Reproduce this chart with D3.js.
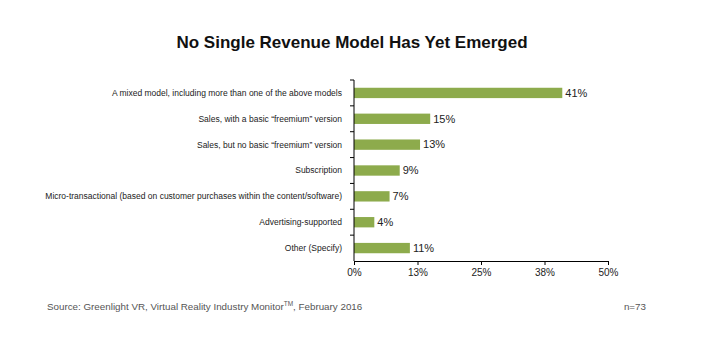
<!DOCTYPE html>
<html>
<head>
<meta charset="utf-8">
<script src="https://cdn.jsdelivr.net/npm/d3@7"></script>
<style>
  body { margin: 0; background: #fff; }
  text { font-family: "Liberation Sans", Arial, sans-serif; }
</style>
</head>
<body>
<div id="chart"></div>
<script>
// chart data
const categories = [
  "A mixed model, including more than one of the above models",
  "Sales, with a basic \u201cfreemium\u201d version",
  "Sales, but no basic \u201cfreemium\u201d version",
  "Subscription",
  "Micro-transactional (based on customer purchases within the content/software)",
  "Advertising-supported",
  "Other (Specify)"
];
const values = [41, 15, 13, 9, 7, 4, 11];
const tickValues = [0, 12.5, 25, 37.5, 50];
const tickLabels = ["0%", "13%", "25%", "38%", "50%"];

const WIDTH = 720;
const HEIGHT = 360;
const MARGIN = { left: 354, right: 112, top: 80, bottom: 99 };

const svg = d3.select("#chart").append("svg")
  .attr("width", WIDTH)
  .attr("height", HEIGHT);

svg.append("text")
  .attr("x", 352)
  .attr("y", 48)
  .attr("text-anchor", "middle")
  .attr("font-size", 17)
  .attr("font-weight", "bold")
  .attr("fill", "#111")
  .text("No Single Revenue Model Has Yet Emerged");

const xscale = d3.scaleLinear()
  .domain([0, 50])
  .range([MARGIN.left, WIDTH - MARGIN.right]);

const yscale = d3.scaleBand()
  .domain(categories)
  .range([MARGIN.top, HEIGHT - MARGIN.bottom])
  .paddingInner(0.6)
  .paddingOuter(0.3);

// bars
svg.selectAll(".bar")
  .data(values)
  .enter()
  .append("rect")
  .attr("class", "bar")
  .attr("x", xscale(0))
  .attr("y", (d, i) => yscale(categories[i]))
  .attr("width", d => xscale(d) - xscale(0))
  .attr("height", yscale.bandwidth())
  .attr("fill", "#8dab4c");

// value labels
svg.selectAll(".val")
  .data(values)
  .enter()
  .append("text")
  .attr("class", "val")
  .attr("x", d => xscale(d) + 3)
  .attr("y", (d, i) => yscale(categories[i]) + yscale.bandwidth() / 2)
  .attr("dy", "0.35em")
  .attr("font-size", 11)
  .attr("fill", "#222")
  .text(d => d + "%");

// y axis: line with ticks between categories
const yTop = MARGIN.top;
const yBottom = HEIGHT - MARGIN.bottom;
const step = (yBottom - yTop) / categories.length;
const gy = svg.append("g").attr("stroke", "#000").attr("stroke-width", 1);
gy.append("line")
  .attr("x1", xscale(0)).attr("x2", xscale(0))
  .attr("y1", yTop).attr("y2", yBottom);
gy.selectAll(".ytick")
  .data(d3.range(categories.length))
  .enter()
  .append("line")
  .attr("x1", xscale(0) - 4).attr("x2", xscale(0))
  .attr("y1", i => yTop + i * step)
  .attr("y2", i => yTop + i * step);

// category labels
svg.selectAll(".cat")
  .data(categories)
  .enter()
  .append("text")
  .attr("class", "cat")
  .attr("x", xscale(0) - 12)
  .attr("y", d => yscale(d) + yscale.bandwidth() / 2)
  .attr("dy", "0.35em")
  .attr("text-anchor", "end")
  .attr("font-size", 8.5)
  .attr("fill", "#222")
  .text(d => d);

// x axis
const x_axis = d3.axisBottom(xscale)
  .tickValues(tickValues)
  .tickFormat((d, i) => tickLabels[i])
  .tickSize(4)
  .tickSizeOuter(0);

const gx = svg.append("g")
  .attr("transform", `translate(0, ${yBottom})`)
  .call(x_axis);
gx.select(".domain").attr("stroke", "#000");
gx.selectAll(".tick line").attr("stroke", "#000");
gx.selectAll(".tick text")
  .attr("font-family", "Liberation Sans, Arial, sans-serif")
  .attr("font-size", 10)
  .attr("fill", "#222")
  .attr("y", 8);

// footer
const source = svg.append("text")
  .attr("x", 47)
  .attr("y", 310)
  .attr("font-size", 9.8)
  .attr("fill", "#555");
source.append("tspan").text("Source: Greenlight VR, Virtual Reality Industry Monitor");
source.append("tspan").attr("font-size", 6.5).attr("dy", -4).text("TM");
source.append("tspan").attr("dy", 4).text(", February 2016");

svg.append("text")
  .attr("x", 646)
  .attr("y", 310)
  .attr("text-anchor", "end")
  .attr("font-size", 9.8)
  .attr("fill", "#555")
  .text("n=73");
</script>
</body>
</html>
